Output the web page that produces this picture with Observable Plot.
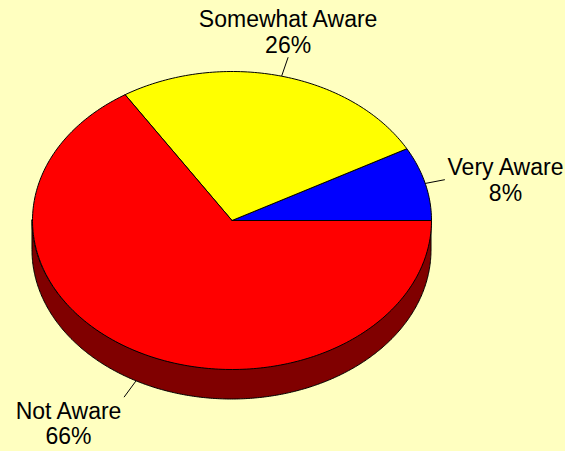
<!DOCTYPE html>
<html>
<head>
<meta charset="utf-8">
<script src="https://cdn.jsdelivr.net/npm/d3@7"></script>
<script src="https://cdn.jsdelivr.net/npm/@observablehq/plot@0.6"></script>
<style>
  html, body { margin: 0; padding: 0; background: #FFFFC0; }
  #chart { width: 565px; height: 451px; }
  svg { display: block; }
</style>
</head>
<body>
<div id="chart"></div>
<script>
// ---- Data ----
const categories = ["Very Aware", "Somewhat Aware", "Not Aware"];
const percents = [8, 26, 66];
const colors = ["#0000FF", "#FFFF00", "#FF0000"];
const wallColor = "#800000";

// ---- Geometry (unit ellipse space; scales map it to pixels) ----
const W = 565, H = 451;
const cx = 231.5, cy = 220, rx = 199.5, ry = 149, depthPx = 30;
const depth = depthPx / ry;
const xDomain = [(0 - cx) / rx, (W - cx) / rx];
const yDomain = [(cy - H) / ry, (cy - 0) / ry];

const total = d3.sum(percents);
let acc = 0;
const slices = categories.map((name, i) => {
  const a0 = acc / total * 2 * Math.PI;
  acc += percents[i];
  const a1 = acc / total * 2 * Math.PI;
  return {name, value: percents[i], color: colors[i], a0, a1, mid: (a0 + a1) / 2};
});

// Slice polygons
const slicePts = [];
for (const s of slices) {
  const n = Math.max(4, Math.ceil((s.a1 - s.a0) / (Math.PI / 180)));
  slicePts.push({name: s.name, u: 0, v: 0});
  for (let k = 0; k <= n; k++) {
    const a = s.a0 + (s.a1 - s.a0) * k / n;
    slicePts.push({name: s.name, u: Math.cos(a), v: Math.sin(a)});
  }
  slicePts.push({name: s.name, u: 0, v: 0});
}

// Side wall (front half, angles PI..2PI)
const wallPts = [];
for (let k = 0; k <= 360; k++) {
  const a = Math.PI + Math.PI * k / 360;
  wallPts.push({u: Math.cos(a), v1: Math.sin(a), v2: Math.sin(a) - depth});
}

// Leader lines and labels
const leaderPx = 20;
const fontSize = 23;
const ctx = document.createElement("canvas").getContext("2d");
ctx.font = `${fontSize}px "Liberation Sans", Arial, sans-serif`;
const labels = slices.map(s => {
  const c = Math.cos(s.mid), sn = Math.sin(s.mid);
  const su = c, sv = sn < 0 ? sn - depth : sn;
  const px = c * rx, py = sn * ry, len = Math.hypot(px, py);
  const eu = su + (px / len) * leaderPx / rx;
  const ev = sv + (py / len) * leaderPx / ry;
  const lines = [s.name, s.value + "%"];
  const hw = d3.max(lines, l => ctx.measureText(l).width) / 2;
  const hh = 24;
  const hf = Math.abs(c) > 0.4 ? Math.sign(c) : 0;
  const vf = Math.abs(sn) > 0.4 ? Math.sign(sn) : 0;
  const lu = eu + hf * (hw + 2) / rx;
  const lv = ev + vf * (hh + 2) / ry;
  return {su, sv, eu, ev, lu, lv, text: lines.join("\n")};
});

const chart = Plot.plot({
  width: W,
  height: H,
  margin: 0,
  style: {background: "#FFFFC0", fontFamily: '"Liberation Sans", Arial, sans-serif'},
  x: {domain: xDomain, axis: null},
  y: {domain: yDomain, axis: null},
  marks: [
    Plot.areaY(wallPts, {x: "u", y1: "v1", y2: "v2", fill: wallColor, stroke: "black", strokeWidth: 1, curve: "linear"}),
    Plot.line(slicePts, {x: "u", y: "v", z: "name", fill: d => colors[categories.indexOf(d.name)], stroke: "black", strokeWidth: 1, strokeLinejoin: "round"}),
    Plot.link(labels, {x1: "su", y1: "sv", x2: "eu", y2: "ev", stroke: "black", strokeWidth: 1}),
    Plot.text(labels, {x: "lu", y: "lv", text: "text", fontSize: fontSize, lineHeight: 1.13, textAnchor: "middle", lineAnchor: "middle", fill: "black"})
  ]
});
document.getElementById("chart").appendChild(chart);
</script>
</body>
</html>
